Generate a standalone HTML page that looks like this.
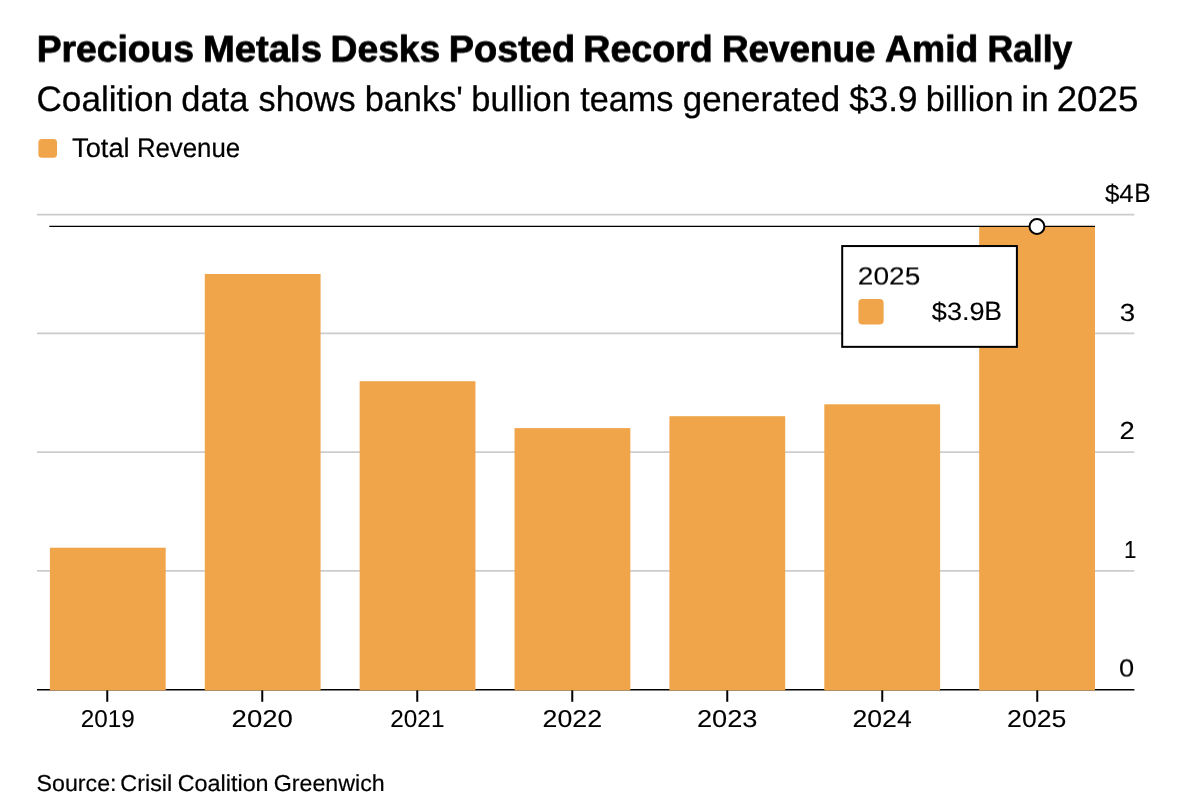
<!DOCTYPE html>
<html lang="en">
<head>
<meta charset="utf-8">
<title>Precious Metals Desks Posted Record Revenue Amid Rally</title>
<style>
  html, body { margin: 0; padding: 0; background: #fff; }
  body { width: 1200px; height: 807px; position: relative; overflow: hidden; }
  svg { position: absolute; left: 0; top: 0; display: block; }
  svg text { font-family: "Liberation Sans", Arial, Helvetica, sans-serif; fill: #000; stroke: #000; stroke-linejoin: round; text-rendering: geometricPrecision; }
</style>
</head>
<body>
<svg width="1200" height="807" viewBox="0 0 1200 807">
  <defs>
    <filter id="half-px-down" filterUnits="userSpaceOnUse" x="0" y="0" width="1200" height="807" color-interpolation-filters="sRGB">
      <feConvolveMatrix order="1 2" kernelMatrix="0.5 0.5" edgeMode="none"/>
    </filter>
  </defs>
  <rect width="1200" height="807" fill="#ffffff"/>
  <rect id="legend-swatch" x="38.4" y="139" width="18.6" height="18.8" rx="3.5" fill="#F0A54A"/>
  <g id="grid" stroke="#CCCCCC" stroke-width="1.6">
    <line x1="37" x2="1134.4" y1="214.60" y2="214.60"/>
    <line x1="37" x2="1134.4" y1="333.35" y2="333.35"/>
    <line x1="37" x2="1134.4" y1="452.10" y2="452.10"/>
    <line x1="37" x2="1134.4" y1="570.85" y2="570.85"/>
  </g>
  <line id="axis" x1="37" x2="1134.4" y1="689.75" y2="689.75" stroke="#000" stroke-width="1.5"/>
  <g id="bars" fill="#F0A54A">
    <rect x="49.90" y="547.70" width="115.8" height="142.75"/>
    <rect x="204.78" y="274.00" width="115.8" height="416.45"/>
    <rect x="359.66" y="381.20" width="115.8" height="309.25"/>
    <rect x="514.54" y="428.10" width="115.8" height="262.35"/>
    <rect x="669.42" y="416.20" width="115.8" height="274.25"/>
    <rect x="824.30" y="404.30" width="115.8" height="286.15"/>
    <rect x="979.18" y="226.90" width="115.8" height="463.55"/>
  </g>
  <g id="ticks" stroke="#000" stroke-width="2">
    <line x1="107.26" x2="107.26" y1="690.4" y2="701.8"/>
    <line x1="262.26" x2="262.26" y1="690.4" y2="701.8"/>
    <line x1="417.26" x2="417.26" y1="690.4" y2="701.8"/>
    <line x1="572.26" x2="572.26" y1="690.4" y2="701.8"/>
    <line x1="727.26" x2="727.26" y1="690.4" y2="701.8"/>
    <line x1="882.26" x2="882.26" y1="690.4" y2="701.8"/>
    <line x1="1037.26" x2="1037.26" y1="690.4" y2="701.8"/>
  </g>
  <line id="cross" x1="49.3" x2="1095" y1="226.4" y2="226.4" stroke="#000" stroke-width="1.4"/>
  <circle id="dot" cx="1036.95" cy="226.55" r="7.45" fill="#fff" stroke="#000" stroke-width="2"/>
  <rect id="tip" x="842.2" y="246.05" width="174.7" height="100.8" fill="#fff" stroke="#000" stroke-width="2"/>
  <rect id="tip-swatch" x="858.4" y="299.1" width="25.2" height="25.4" rx="4" fill="#F0A54A"/>
  <text id="title" y="61" font-size="37.2" font-weight="700" stroke-width="0.8" filter="url(#half-px-down)"><tspan x="36.67" textLength="157.44" lengthAdjust="spacingAndGlyphs">Precious</tspan> <tspan x="203.01" textLength="118.94" lengthAdjust="spacingAndGlyphs">Metals</tspan> <tspan x="330.57" textLength="109.74" lengthAdjust="spacingAndGlyphs">Desks</tspan> <tspan x="448.83" textLength="126.19" lengthAdjust="spacingAndGlyphs">Posted</tspan> <tspan x="583.35" textLength="129.45" lengthAdjust="spacingAndGlyphs">Record</tspan> <tspan x="721.90" textLength="153.62" lengthAdjust="spacingAndGlyphs">Revenue</tspan> <tspan x="885.12" textLength="93.17" lengthAdjust="spacingAndGlyphs">Amid</tspan> <tspan x="987.38" textLength="85.00" lengthAdjust="spacingAndGlyphs">Rally</tspan></text>
  <text id="subtitle" y="111" font-size="35.4" stroke-width="0.3"><tspan x="36.50" textLength="136.62" lengthAdjust="spacingAndGlyphs">Coalition</tspan> <tspan x="181.37" textLength="66.96" lengthAdjust="spacingAndGlyphs">data</tspan> <tspan x="258.62" textLength="97.00" lengthAdjust="spacingAndGlyphs">shows</tspan> <tspan x="364.70" textLength="98.17" lengthAdjust="spacingAndGlyphs">banks'</tspan> <tspan x="471.29" textLength="99.69" lengthAdjust="spacingAndGlyphs">bullion</tspan> <tspan x="580.15" textLength="93.27" lengthAdjust="spacingAndGlyphs">teams</tspan> <tspan x="682.76" textLength="157.35" lengthAdjust="spacingAndGlyphs">generated</tspan> <tspan x="849.35" textLength="68.22" lengthAdjust="spacingAndGlyphs">$3.9</tspan> <tspan x="925.81" textLength="87.67" lengthAdjust="spacingAndGlyphs">billion</tspan> <tspan x="1021.23" textLength="27.61" lengthAdjust="spacingAndGlyphs">in</tspan> <tspan x="1056.73" textLength="81.61" lengthAdjust="spacingAndGlyphs">2025</tspan></text>
  <text id="legend" y="157" font-size="26.8" stroke-width="0.2"><tspan x="72.07" textLength="57.52" lengthAdjust="spacingAndGlyphs">Total</tspan> <tspan x="136.88" textLength="103.26" lengthAdjust="spacingAndGlyphs">Revenue</tspan></text>
  <text id="y4" y="202" font-size="25.0" stroke-width="0.1"><tspan x="1104.94" textLength="28.84" lengthAdjust="spacingAndGlyphs">$4</tspan><tspan x="1134.34" font-size="26.4" textLength="16.34" lengthAdjust="spacingAndGlyphs">B</tspan></text>
  <text id="y3" x="1119.73" y="321" font-size="24.6" stroke-width="0.1" textLength="15.44" lengthAdjust="spacingAndGlyphs">3</text>
  <text id="y2" x="1119.61" y="439" font-size="24.6" stroke-width="0.1" textLength="15.26" lengthAdjust="spacingAndGlyphs">2</text>
  <text id="y1" x="1124.02" y="558" font-size="24.6" stroke-width="0.1" textLength="12.40" lengthAdjust="spacingAndGlyphs">1</text>
  <text id="y0" x="1118.95" y="676" font-size="24.6" stroke-width="0.1" filter="url(#half-px-down)" textLength="15.18" lengthAdjust="spacingAndGlyphs">0</text>
  <text id="x2019" x="80.86" y="727" font-size="24.4" stroke-width="0.1" textLength="53.96" lengthAdjust="spacingAndGlyphs">2019</text>
  <text id="x2020" x="231.59" y="727" font-size="24.4" stroke-width="0.1" textLength="61.34" lengthAdjust="spacingAndGlyphs">2020</text>
  <text id="x2021" x="390.35" y="727" font-size="24.4" stroke-width="0.1" textLength="54.06" lengthAdjust="spacingAndGlyphs">2021</text>
  <text id="x2022" x="542.64" y="727" font-size="24.4" stroke-width="0.1" textLength="59.39" lengthAdjust="spacingAndGlyphs">2022</text>
  <text id="x2023" x="696.91" y="727" font-size="24.4" stroke-width="0.1" textLength="60.53" lengthAdjust="spacingAndGlyphs">2023</text>
  <text id="x2024" x="852.54" y="727" font-size="24.4" stroke-width="0.1" textLength="59.14" lengthAdjust="spacingAndGlyphs">2024</text>
  <text id="x2025" x="1007.14" y="727" font-size="24.4" stroke-width="0.1" textLength="59.27" lengthAdjust="spacingAndGlyphs">2025</text>
  <text id="tipyear" x="857.89" y="284" font-size="24.8" stroke-width="0.1" filter="url(#half-px-down)" textLength="62.48" lengthAdjust="spacingAndGlyphs">2025</text>
  <text id="tipval" y="320" font-size="25.0" stroke-width="0.1"><tspan x="931.83" textLength="52.82" lengthAdjust="spacingAndGlyphs">$3.9</tspan><tspan x="984.38" font-size="26.4" textLength="17.68" lengthAdjust="spacingAndGlyphs">B</tspan></text>
  <text id="source" y="791" font-size="23.0" stroke-width="0.2"><tspan x="36.59" textLength="79.92" lengthAdjust="spacingAndGlyphs">Source:</tspan> <tspan x="120.28" textLength="51.95" lengthAdjust="spacingAndGlyphs">Crisil</tspan> <tspan x="177.78" textLength="90.83" lengthAdjust="spacingAndGlyphs">Coalition</tspan> <tspan x="273.69" textLength="111.02" lengthAdjust="spacingAndGlyphs">Greenwich</tspan></text>
</svg>
</body>
</html>
